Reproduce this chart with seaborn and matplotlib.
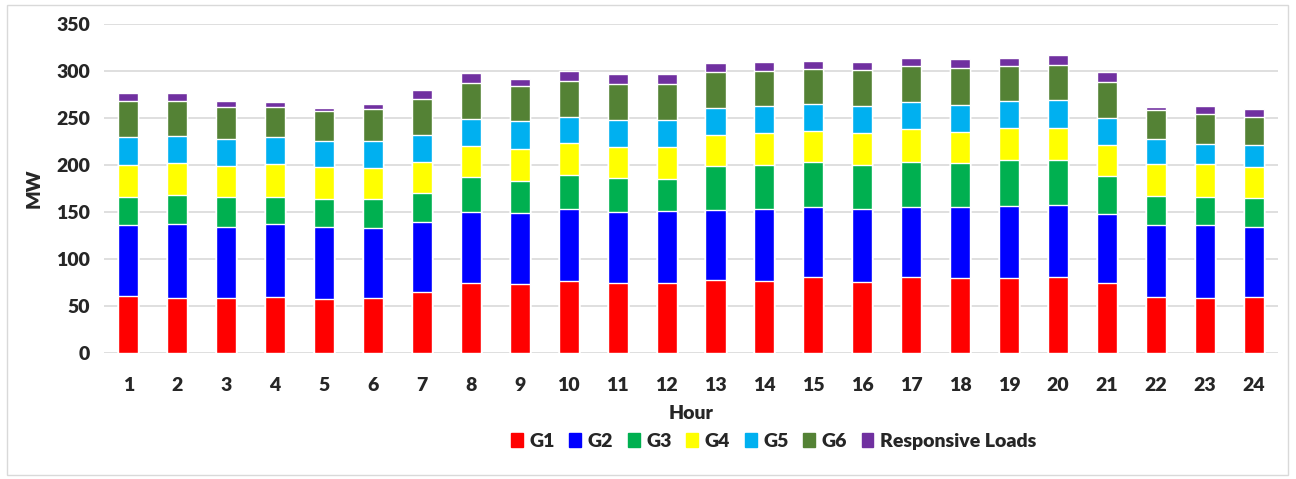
import matplotlib
matplotlib.use("Agg")
import matplotlib.pyplot as plt
import matplotlib.patches as mpatches
import numpy as np
import pandas as pd
import seaborn as sns

sns.set_style("white")
plt.rcParams['font.family'] = ['Lato', 'DejaVu Sans']

hours = list(range(1, 25))
series = ['G1', 'G2', 'G3', 'G4', 'G5', 'G6', 'Responsive Loads']
colors = ['#ff0000', '#0000ff', '#00b050', '#ffff00', '#00b0f0', '#548235', '#7030a0']

g1 = [60.3, 58.9, 58.9, 59.6, 57.8, 58.9, 64.9, 74.8, 73.4, 76.2, 74.1, 74.1,
      77.3, 76.2, 80.5, 75.5, 81.2, 80.1, 80.1, 80.9, 74.1, 59.6, 58.9, 59.6]
g2 = [75.5, 78.0, 74.8, 77.3, 75.9, 74.1, 74.8, 75.2, 75.5, 76.6, 75.9, 77.0,
      75.2, 76.6, 74.8, 77.3, 74.1, 75.2, 76.3, 76.2, 73.8, 76.2, 76.9, 74.1]
g3 = [30.5, 31.5, 31.9, 29.4, 29.8, 30.5, 30.5, 36.9, 34.4, 36.9, 35.8, 34.0,
      46.4, 46.8, 47.5, 46.8, 48.2, 46.8, 48.9, 48.2, 40.0, 31.6, 30.5, 30.8]
g4 = [33.3, 33.7, 33.3, 35.1, 34.4, 33.7, 32.6, 33.3, 33.4, 33.7, 33.7, 33.7,
      33.0, 34.1, 33.4, 34.1, 34.8, 33.4, 33.7, 34.4, 33.7, 34.0, 34.4, 33.7]
g5 = [29.8, 28.4, 28.8, 28.0, 28.0, 28.7, 29.1, 28.4, 29.8, 28.0, 28.7, 28.7,
      28.4, 28.7, 28.7, 28.7, 28.7, 28.7, 28.7, 29.1, 28.4, 26.3, 21.6, 22.7]
g6 = [38.3, 37.2, 34.0, 32.3, 31.9, 33.3, 38.0, 38.6, 37.2, 38.3, 38.0, 38.7,
      38.3, 37.6, 37.2, 38.3, 38.0, 38.6, 38.0, 37.9, 37.9, 30.8, 31.6, 30.2]
resp = [9.3, 9.3, 6.0, 5.0, 2.8, 5.7, 10.2, 10.3, 8.1, 10.3, 10.3, 10.3,
        10.3, 9.9, 8.9, 9.2, 9.2, 10.3, 8.5, 10.3, 10.7, 3.6, 9.2, 8.8]

df = pd.DataFrame({'Hour': hours, 'G1': g1, 'G2': g2, 'G3': g3, 'G4': g4,
                   'G5': g5, 'G6': g6, 'Responsive Loads': resp})
cum = df[series].cumsum(axis=1)
cum['Hour'] = df['Hour']

fig = plt.figure(figsize=(12.96, 4.79), dpi=100)
ax = fig.add_axes([0.0802, 0.263, 0.906, 0.687])

# stacked bars: draw cumulative totals from the top layer down
for name, col in reversed(list(zip(series, colors))):
    sns.barplot(data=cum, x='Hour', y=name, color=col, width=0.41,
                saturation=1, ax=ax, zorder=2)

ax.set_ylim(0, 350)
ax.set_yticks(range(0, 351, 50))
ax.set_xlim(-0.5, 23.5)
ax.yaxis.grid(True, color='#d9d9d9', linewidth=1.2, zorder=0)
ax.set_axisbelow(True)
for s in ax.spines.values():
    s.set_visible(False)
ax.tick_params(axis='y', length=0, labelsize=14, pad=10)
ax.tick_params(axis='x', length=0, labelsize=14, pad=17)
for lab in ax.get_xticklabels() + ax.get_yticklabels():
    lab.set_fontweight('heavy')
ax.set_xlabel('Hour', fontsize=14, fontweight='heavy', labelpad=8)
ax.set_ylabel('MW', fontsize=14, fontweight='heavy', labelpad=10)

handles = [mpatches.Patch(color=c, label=s) for s, c in zip(series, colors)]
fig.legend(handles=handles, loc='center', bbox_to_anchor=(0.597, 0.079),
           ncol=7, frameon=False, handlelength=0.6, handleheight=0.7,
           handletextpad=0.35, columnspacing=0.75,
           prop={'weight': 'heavy', 'size': 14})

fig.patches.append(mpatches.Rectangle((0.0055, 0.008), 0.988, 0.981,
                                      transform=fig.transFigure, fill=False,
                                      edgecolor='#d9d9d9', linewidth=1))

fig.savefig('out.png', dpi=100)
